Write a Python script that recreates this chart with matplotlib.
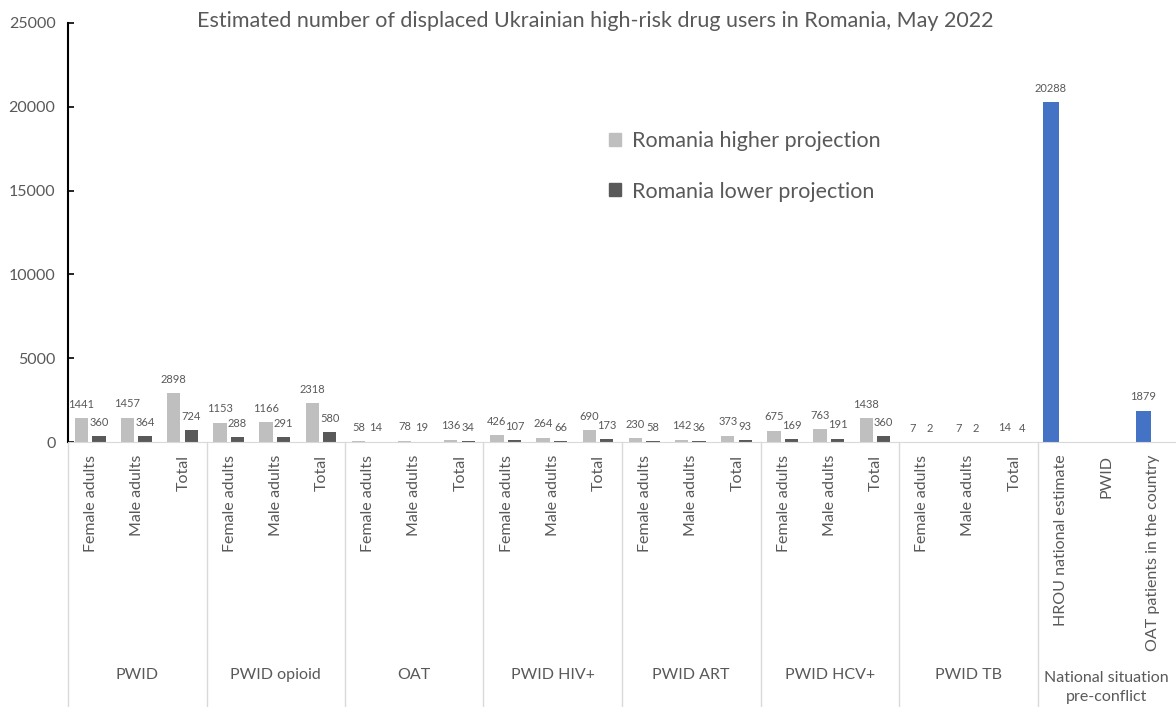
import matplotlib
matplotlib.use("Agg")
import matplotlib.pyplot as plt
from matplotlib.patches import Patch
from matplotlib.lines import Line2D
import numpy as np

# --- data ---
GROUPS = ["PWID", "PWID opioid", "OAT", "PWID HIV+", "PWID ART", "PWID HCV+", "PWID TB"]
SUBCATS = ["Female adults", "Male adults", "Total"]
HIGHER = [1441, 1457, 2898, 1153, 1166, 2318, 58, 78, 136, 426, 264, 690,
          230, 142, 373, 675, 763, 1438, 7, 7, 14]
LOWER = [360, 364, 724, 288, 291, 580, 14, 19, 34, 107, 66, 173,
         58, 36, 93, 169, 191, 360, 2, 2, 4]
NATIONAL_GROUP = "National situation\npre-conflict"
NATIONAL_CATS = ["HROU national estimate", "PWID", "OAT patients in the country"]
NATIONAL = [20288, None, 1879]
Y_TICKS = [0, 5000, 10000, 15000, 20000, 25000]

TITLE = "Estimated number of displaced Ukrainian high-risk drug users in Romania, May 2022"

C_HIGH = "#BFBFBF"
C_LOW = "#595959"
C_NAT = "#4472C4"
C_TEXT = "#595959"
C_GRID = "#D9D9D9"

plt.rcParams["font.family"] = ["Lato", "DejaVu Sans"]

W, H = 1176, 707
fig = plt.figure(figsize=(W / 100, H / 100), dpi=100)
ax = fig.add_axes([68 / W, 1 - 442 / H, (1176 - 68) / W, (442 - 23) / H])

n_sub = len(GROUPS) * len(SUBCATS)
x = np.arange(n_sub)
bw = 0.29
off_hi, off_lo = -0.21, 0.17

ax.bar(x + off_hi, HIGHER, width=bw, color=C_HIGH)
ax.bar(x + off_lo, LOWER, width=bw, color=C_LOW)

xn = np.arange(n_sub, n_sub + len(NATIONAL_CATS))
nat_x = [xi + off_hi for xi, v in zip(xn, NATIONAL) if v is not None]
nat_v = [v for v in NATIONAL if v is not None]
ax.bar(nat_x, nat_v, width=0.33, color=C_NAT)

# value labels
def label(xs, vals):
    for xi, v in zip(xs, vals):
        ax.annotate(f"{v}", (xi, v), xytext=(0, 6), textcoords="offset points",
                    ha="center", va="bottom", fontsize=8, color=C_TEXT)

label(x + off_hi, HIGHER)
label(x + off_lo, LOWER)
label(nat_x, nat_v)

ax.set_xlim(-0.5, n_sub + len(NATIONAL_CATS) - 0.5)
ax.set_ylim(0, 25000)
ax.set_yticks(Y_TICKS)
ax.tick_params(axis="y", direction="in", length=4, width=1.2, colors="black",
               labelcolor=C_TEXT, labelsize=11.5, pad=9)
ax.set_xticks([])
for s in ["top", "right"]:
    ax.spines[s].set_visible(False)
ax.spines["left"].set_linewidth(1.5)
ax.spines["bottom"].set_color(C_GRID)

# multi-level category axis
xt = ax.get_xaxis_transform()
all_cats = SUBCATS * len(GROUPS) + NATIONAL_CATS
for i, c in enumerate(all_cats):
    ax.text(i, -0.03, c, transform=xt, rotation=90, ha="center", va="top",
            fontsize=11.5, color=C_TEXT)

all_groups = GROUPS + [NATIONAL_GROUP]
for g, name in enumerate(all_groups):
    start = g * 3 - 0.5
    ax.add_line(Line2D([start, start], [0, -0.64], transform=xt, color=C_GRID,
                       lw=1, clip_on=False))
    ypos = -0.585 if "\n" in name else -0.555
    ax.text(start + 1.5, ypos, name, transform=xt, ha="center", va="center",
            fontsize=11.5, color=C_TEXT, linespacing=1.45)

fig.text(0.506, 0.971, TITLE, ha="center", va="center", fontsize=15.5, color=C_TEXT)

handles = [Patch(color=C_HIGH), Patch(color=C_LOW)]
fig.legend(handles, ["Romania higher projection", "Romania lower projection"],
           loc="upper left", bbox_to_anchor=(590 / W, 1 - 112 / H), frameon=False,
           fontsize=15.5, labelcolor=C_TEXT, handlelength=0.55, handleheight=0.55,
           handletextpad=0.5, labelspacing=1.4)

fig.savefig("out.png", dpi=100)
